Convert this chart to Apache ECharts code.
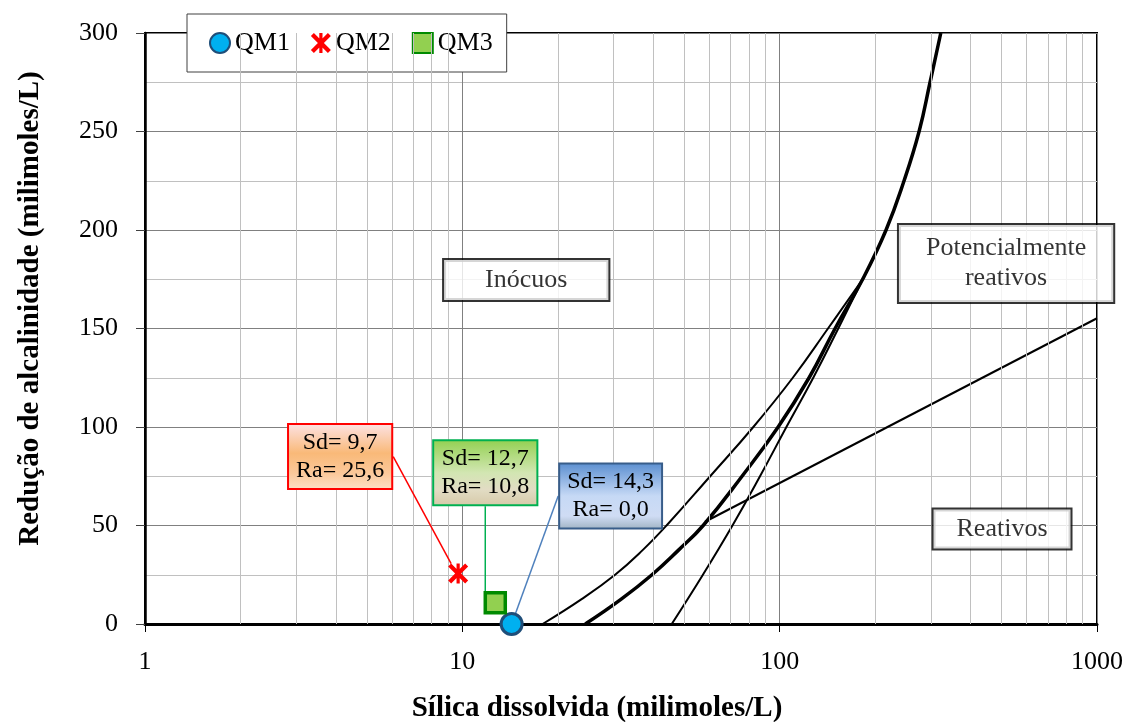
<!DOCTYPE html>
<html><head><meta charset="utf-8">
<script src="https://cdn.jsdelivr.net/npm/echarts@6/dist/echarts.min.js"></script>
<style>html,body{margin:0;padding:0;background:#fff}#c{width:1123px;height:722px}</style>
</head><body><div id="c"></div>
<script>
const FONT = '"Liberation Serif","Times New Roman",serif';

// samples
const sampleNames = ['QM1', 'QM2', 'QM3'];
const silica = [14.3, 9.7, 12.7];       // Sd (mmol/L)
const alkalinity = [0.0, 25.6, 10.8];   // Ra (mmol/L)

// boundary curves
const thickCurveX = [24.4, 31.6, 39.6, 48.0, 57.4, 76.1, 98.9, 123.8, 149.5, 182.6, 216.4, 246.6, 275.0, 297.8, 321.9];
const thickCurveY = [0, 12.5, 25, 37.5, 50, 75, 100, 125, 150, 175, 200, 225, 250, 275, 300];
const thinLeftX = [17.9, 23.7, 30.3, 37.0, 44, 60.4, 82.6, 110, 142, 182.6];
const thinLeftY = [0, 12.5, 25, 37.5, 50, 75, 100, 125, 150, 175];
const thinRightX = [45.7, 57.3, 71.0, 86.7, 105, 127.6, 153, 182.6];
const thinRightY = [0, 25, 50, 75, 100, 125, 150, 175];
const straightX = [58.2, 1000];
const straightY = [51.9, 155.2];

// minor log grid lines
const minorGridX = [2,3,4,5,6,7,8,9,20,30,40,50,60,70,80,90,200,300,400,500,600,700,800,900];

// region annotations
const regionNames = ['Inócuos', 'Potencialmente\nreativos', 'Reativos'];
const regionX = [15.9, 517, 502];
const regionY = [174.6, 183, 48.2];

const zip = (xs, ys) => xs.map((x, i) => [x, ys[i]]);
const fmt = v => v.toFixed(1).replace('.', ',');

const sampleStyles = [
  { symbol: 'circle', size: 21, color: '#00b0f0', border: '#1f4e79', bw: 3,
    boxBorder: '#385d8a', lineColor: '#4f81bd',
    grad: [['#5a8ed0', 0], ['#c6d9f5', 0.5], ['#cfdcf4', 0.8], ['#9fb2c2', 1]], dx: 99, dy: -128 },
  { symbol: 'path://M1.5,0 L5,3.5 L8.5,0 L10,1.5 L6.5,5 L10,8.5 L8.5,10 L5,6.5 L1.5,10 L0,8.5 L3.5,5 L0,1.5 Z M4.2,0 L5.8,0 L5.8,10 L4.2,10 Z',
    size: 20, color: '#ff0000', border: '#ff0000', bw: 0,
    boxBorder: '#ff0000', lineColor: '#ff0000',
    grad: [['#fde3e6', 0], ['#f9b978', 0.45], ['#fbc89a', 0.75], ['#fde0c8', 1]], dx: -118, dy: -117 },
  { symbol: 'rect', size: 20, color: '#92d050', border: '#008a00', bw: 3.5,
    boxBorder: '#00b050', lineColor: '#00b050',
    grad: [['#92d050', 0], ['#d2e6b2', 0.5], ['#e2dcc4', 0.75], ['#d6c9a8', 1]], dx: -10, dy: -130 }
];

const series = [];

// minor vertical grid
series.push({
  name: 'minorGrid', type: 'line', data: [[1, 0], [1, 0]], symbol: 'none', silent: true, z: 1,
  lineStyle: { opacity: 0 },
  markLine: {
    silent: true, symbol: ['none', 'none'], animation: false,
    label: { show: false }, emphasis: { disabled: true },
    lineStyle: { color: '#c0c0c0', width: 1, type: 'solid' },
    data: minorGridX.map(v => ({ xAxis: v }))
  }
});

function curve(name, xs, ys, w) {
  return { name, type: 'line', data: zip(xs, ys), symbol: 'none', smooth: 0.45, silent: true, z: 3,
    lineStyle: { color: '#000', width: w }, clip: true };
}
series.push(curve('thinLeft', thinLeftX, thinLeftY, 2));
series.push(curve('thinRight', thinRightX, thinRightY, 2));
series.push(curve('thick', thickCurveX, thickCurveY, 3.5));
series.push({ name: 'straight', type: 'line', data: zip(straightX, straightY), symbol: 'none', silent: true, z: 3,
  lineStyle: { color: '#000', width: 2 } });

// region labels
series.push({
  name: 'regions', type: 'scatter', symbolSize: 1, itemStyle: { color: 'transparent' }, silent: true, z: 6,
  data: zip(regionX, regionY).map((p, i) => ({
    value: p,
    label: { padding: i === 0 ? [6, 41, 4, 41] : i === 1 ? [9, 27, 8, 27] : [5, 23, 4, 23] }
  })),
  label: {
    show: true, position: 'inside', formatter: p => regionNames[p.dataIndex],
    fontFamily: FONT, fontSize: 26, lineHeight: 30, color: '#000', align: 'center',
    backgroundColor: '#fff', borderColor: '#000', borderWidth: 2
  }
});

// samples
sampleNames.forEach((n, i) => {
  const s = sampleStyles[i];
  series.push({
    name: n, type: 'scatter', z: 8,
    data: [[silica[i], alkalinity[i]]],
    symbol: s.symbol, symbolSize: s.size,
    itemStyle: { color: s.color, borderColor: s.border, borderWidth: s.bw, opacity: 1 },
    label: {
      show: true, position: 'inside',
      formatter: () => 'Sd= ' + fmt(silica[i]) + '\nRa= ' + fmt(alkalinity[i]),
      fontFamily: FONT, fontSize: 24, lineHeight: 28, color: '#000', align: 'center',
      padding: [4, 7, 3, 7], borderColor: s.boxBorder, borderWidth: 2,
      backgroundColor: { type: 'linear', x: 0, y: 0, x2: 0, y2: 1,
        colorStops: s.grad.map(g => ({ color: g[0], offset: g[1] })) }
    },
    labelLayout: { dx: s.dx, dy: s.dy },
    labelLine: { show: true, lineStyle: { color: s.lineColor, width: 1.5 } }
  });
});

const chart = echarts.init(document.getElementById('c'), null, { renderer: 'canvas' });
chart.setOption({
  animation: false,
  backgroundColor: '#fff',
  grid: { left: 145, right: 26, top: 33, bottom: 98, containLabel: false, outerBoundsMode: 'none',
    show: true, borderColor: '#000', borderWidth: 2, backgroundColor: 'transparent' },
  legend: {
    data: sampleNames, left: 187, top: 14, orient: 'horizontal',
    itemWidth: 20, itemHeight: 20, itemGap: 21, padding: [16, 14, 16, 22],
    backgroundColor: '#fff', borderColor: '#404040', borderWidth: 1,
    textStyle: { fontFamily: FONT, fontSize: 26, color: '#000' },
    selectedMode: false
  },
  xAxis: {
    type: 'log', logBase: 10, min: 1, max: 1000,
    name: 'Sílica dissolvida (milimoles/L)', nameLocation: 'middle', nameGap: 70,
    nameTextStyle: { fontFamily: FONT, fontSize: 29, fontWeight: 'bold', color: '#000', padding: [0, 48, 0, 0] },
    axisLine: { show: true, onZero: false, lineStyle: { color: '#000', width: 3 } },
    axisTick: { show: true, length: 8, inside: false, lineStyle: { color: '#000', width: 1 } },
    axisLabel: { fontFamily: FONT, fontSize: 26, color: '#000', margin: 25, formatter: v => String(v) },
    splitLine: { show: true, lineStyle: { color: '#808080', width: 1 } },
    minorTick: { show: false }
  },
  yAxis: {
    type: 'value', min: 0, max: 300, interval: 50,
    name: 'Redução de alcalinidade (milimoles/L)', nameLocation: 'middle', nameGap: 100,
    nameTextStyle: { fontFamily: FONT, fontSize: 29, fontWeight: 'bold', color: '#000', padding: [0, 0, 0, 40] },
    axisLine: { show: true, lineStyle: { color: '#000', width: 2.5 } },
    axisTick: { show: true, length: 9, lineStyle: { color: '#404040', width: 1 } },
    axisLabel: { fontFamily: FONT, fontSize: 26, color: '#000', margin: 27 },
    splitLine: { show: true, lineStyle: { color: '#808080', width: 1 } },
    minorTick: { show: false, splitNumber: 2 },
    minorSplitLine: { show: true, lineStyle: { color: '#c0c0c0', width: 1 } }
  },
  series
});
</script></body></html>
